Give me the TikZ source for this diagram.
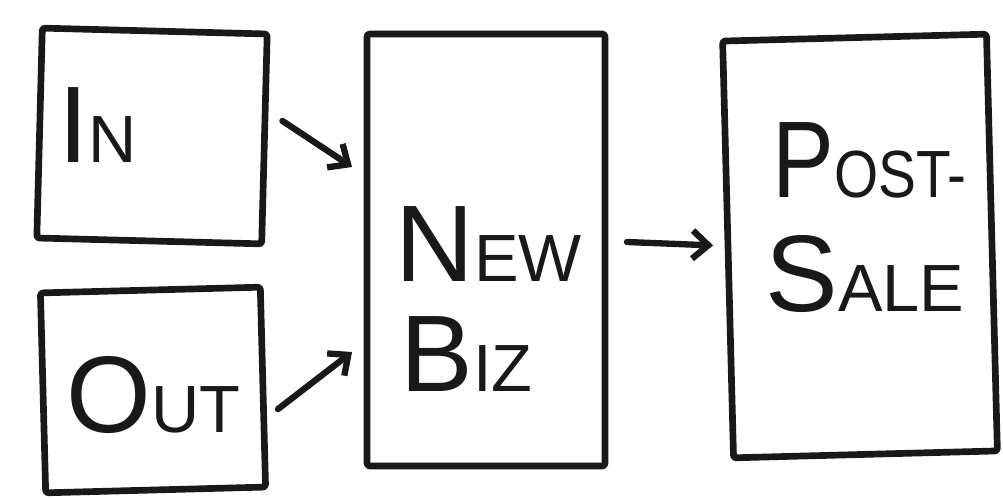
\documentclass[tikz,border=0pt]{standalone}
\usepackage{fontspec}
\setmainfont{Liberation Sans}
\usepackage{tikz}
\usetikzlibrary{arrows.meta,calc}
\tikzset{>={Straight Barb[length=9pt,width=16pt]}}
\tikzset{
  sketchbox/.style={draw=black!90,line width=3.8pt,line join=round,rounded corners=1.5pt,
    inner sep=0pt,outer sep=0pt},
  sketcharr/.style={->,draw=black!90,line width=3.6pt,line cap=round},
  scrawl/.style={inner sep=0pt,text=black!90},
}
\newcommand{\capword}[2]{{\fontsize{62}{62}\selectfont #1}{\fontsize{38}{38}\selectfont #2}}

\begin{document}
\begin{tikzpicture}[x=0.02cm,y=-0.02cm]
\useasboundingbox (0,0) rectangle (1003,499);
% boxes
\node[sketchbox,minimum width=4.5cm,minimum height=4.2cm,rotate=-1.5] (in) at (152,136) {};
\node[sketchbox,minimum width=4.4cm,minimum height=4.0cm,rotate=1.5] (out) at (153,390) {};
\node[sketchbox,minimum width=4.76cm,minimum height=8.64cm] (newbiz) at (486,250) {};
\node[sketchbox,minimum width=5.28cm,minimum height=8.34cm,rotate=1.5] (postsale) at (860,246) {};
% labels
\node[scrawl,anchor=base west] (inlbl) at (58,163) {\capword{I}{N}};
\node[scrawl,anchor=base west] (outlbl) at (66,432) {\capword{O}{UT}};
\node[scrawl,anchor=base west] (newlbl) at (395,282) {\capword{N}{EW}};
\node[scrawl,anchor=base west] (bizlbl) at (400,392) {\capword{B}{IZ}};
\node[scrawl,anchor=base west,xscale=0.85] (postlbl) at (772,198) {\capword{P}{OST-}};
\node[scrawl,anchor=base west] (salelbl) at (765,312) {\capword{S}{ALE}};
% arrows
\draw[sketcharr] ([shift={(18,-18)}]in.east) -- ([shift={(-15,-83)}]newbiz.west);
\draw[sketcharr] ([shift={(15,22)}]out.east) -- ([shift={(-15,102)}]newbiz.west);
\draw[sketcharr] ([shift={(22,-8)}]newbiz.east) -- ([shift={(-15,-4)}]postsale.west);
\end{tikzpicture}
\end{document}
